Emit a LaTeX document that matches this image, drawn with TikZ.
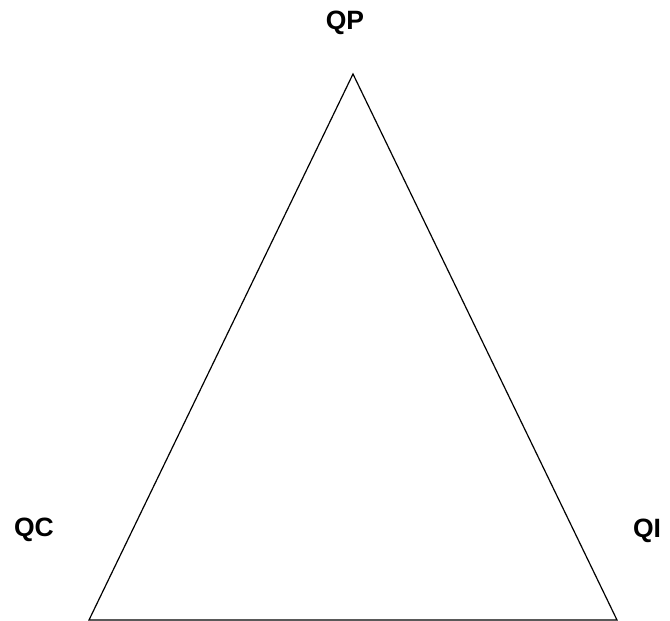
\documentclass[tikz,border=0pt]{standalone}
\usepackage{fontspec}
\setmainfont{Liberation Sans}
\begin{document}
\begin{tikzpicture}[x=1pt,y=1pt,
  vertexlabel/.style={font=\fontsize{26.5}{30}\selectfont\bfseries, inner sep=0pt, anchor=base},
  edge/.style={line width=1.2pt, line join=miter}]
\useasboundingbox (0,0) rectangle (670,621);
% triangle corners
\coordinate (P) at (353,547);
\coordinate (C) at (89,1);
\coordinate (I) at (617,1);
% corner labels
\node[vertexlabel] (lp) at (345,591) {QP};
\node[vertexlabel] (lc) at (34,84) {QC};
\node[vertexlabel] (li) at (647,83) {QI};
% sides
\draw[edge] (P) -- (C) -- (I) -- cycle;
\end{tikzpicture}
\end{document}
